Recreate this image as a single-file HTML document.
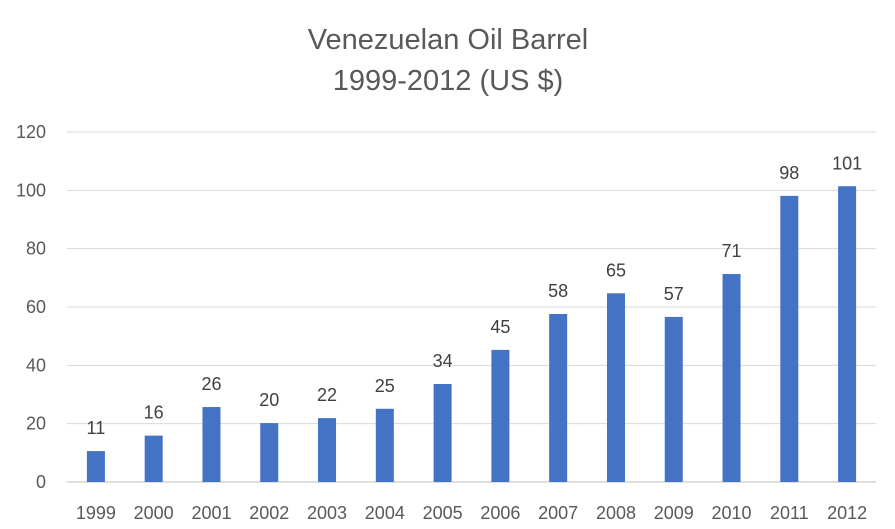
<!DOCTYPE html>
<html><head><meta charset="utf-8"><style>
body{margin:0;background:#fff;}
svg{display:block;font-family:"Liberation Sans",Calibri,sans-serif;}
</style></head><body>
<svg id="chart" width="895" height="529">
<rect width="895" height="529" fill="#fff"/>
<text x="448" y="49" text-anchor="middle" font-size="29" fill="#595959">Venezuelan Oil Barrel</text>
<text x="448" y="90" text-anchor="middle" font-size="29" fill="#595959">1999-2012 (US $)</text>
<g id="grid"></g><g id="bars"></g><g id="labels"></g>
</svg>
<script>
const categories=["1999","2000","2001","2002","2003","2004","2005","2006","2007","2008","2009","2010","2011","2012"];
const values=[10.6,15.9,25.7,20.2,21.9,25.1,33.6,45.3,57.6,64.7,56.6,71.3,98.1,101.4];
const yTicks=[0,20,40,60,80,100,120];
const NS="http://www.w3.org/2000/svg";
const x0=67,x1=876,yBase=482,yTop=132,yMax=120;
const step=(x1-x0)/categories.length;
function xs(i){return x0+step*(i+0.5);}
function ys(v){return yBase-(v/yMax)*(yBase-yTop);}
function mk(tag,attrs,parent){const e=document.createElementNS(NS,tag);for(const k in attrs)e.setAttribute(k,attrs[k]);parent.appendChild(e);return e;}
const grid=document.getElementById('grid'),bars=document.getElementById('bars'),labels=document.getElementById('labels');
yTicks.forEach(t=>{
  const l=mk('line',{x1:x0,x2:x1,y1:ys(t),y2:ys(t),stroke:t===0?'#bfbfbf':'#d9d9d9','stroke-width':1},grid);
  
  
  const tx=mk('text',{x:46,y:ys(t)+6,'text-anchor':'end','font-size':18,fill:'#595959'},grid);
  tx.textContent=t;
  
  
});
categories.forEach((c,i)=>{
  const bw=18;
  const r=mk('rect',{x:xs(i)-bw/2,y:ys(values[i]),width:bw,height:yBase-ys(values[i]),fill:'#4472c4'},bars);
  
  
  const v=mk('text',{x:xs(i),y:ys(values[i])-17,'text-anchor':'middle','font-size':18,fill:'#404040'},labels);
  v.textContent=Math.round(values[i]);
  
  
  const xl=mk('text',{x:xs(i),y:519,'text-anchor':'middle','font-size':18,fill:'#595959'},labels);
  xl.textContent=c;
  
  
});
</script>
</body></html>
